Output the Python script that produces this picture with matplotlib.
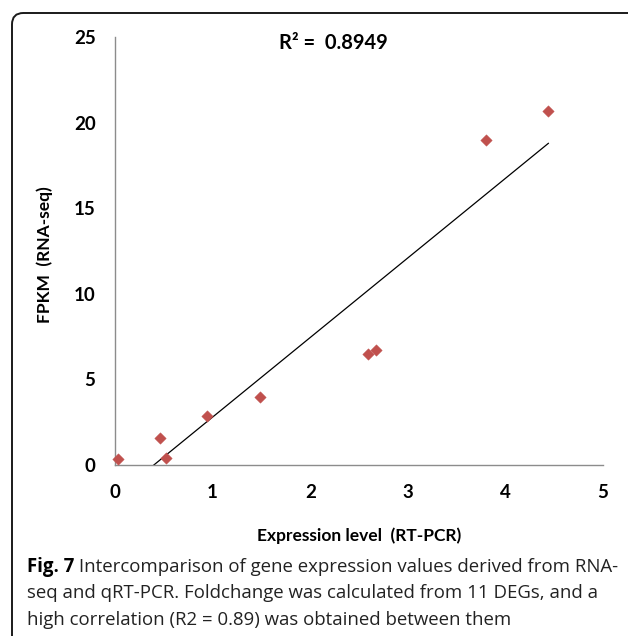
import numpy as np
import matplotlib
matplotlib.use("Agg")
import matplotlib.pyplot as plt
from matplotlib.patches import FancyBboxPatch

# data
rt_pcr = [0.03, 0.46, 0.52, 0.94, 1.49, 2.59, 2.67, 3.80, 4.44]
fpkm = [0.35, 1.6, 0.4, 2.87, 3.97, 6.5, 6.7, 19.0, 20.7]
x_ticks = [0, 1, 2, 3, 4, 5]
y_ticks = [0, 5, 10, 15, 20, 25]
r2_text = "R² =  0.8949"
x_title = "Expression level  (RT-PCR)"
y_title = "FPKM  (RNA-seq)"
caption_bold = "Fig. 7"
caption_lines = [
    " Intercomparison of gene expression values derived from RNA-",
    "seq and qRT-PCR. Foldchange was calculated from 11 DEGs, and a",
    "high correlation (R2 = 0.89) was obtained between them",
]

W, H = 628, 636
fig = plt.figure(figsize=(W / 100, H / 100), dpi=100)
fig.patch.set_facecolor("white")

def fx(px):
    return px / W

def fy(py):
    return 1 - py / H

# rounded frame
frame = FancyBboxPatch((fx(12), fy(660)), fx(660) - fx(12), fy(13) - fy(660),
                       boxstyle="round,pad=0,rounding_size=0.018",
                       transform=fig.transFigure, facecolor="none",
                       edgecolor="#1a1a1a", linewidth=1.4, zorder=0)
fig.patches.append(frame)

ax = fig.add_axes([fx(115), fy(465), fx(603) - fx(115), fy(37) - fy(465)])
chart_font = "Lato"

ax.scatter(rt_pcr, fpkm, marker="D", s=34, color="#C0504D", edgecolors="#C0504D",
           linewidths=0.3, zorder=3, clip_on=False)

xs = np.array(rt_pcr)
ys = np.array(fpkm)
k, b = np.polyfit(xs, ys, 1)
lx = np.linspace(xs.min(), xs.max(), 200)
ax.plot(lx, k * lx + b, color="black", linewidth=0.9, zorder=2)

ax.set_xlim(0, 5)
ax.set_ylim(0, 25)
ax.set_xticks(x_ticks)
ax.set_yticks(y_ticks)
ax.set_xticklabels([str(v) for v in x_ticks], fontfamily=chart_font, fontweight="bold", fontsize=13.5)
ax.set_yticklabels([str(v) for v in y_ticks], fontfamily=chart_font, fontweight="bold", fontsize=13.5)
ax.tick_params(axis="both", length=0)
ax.tick_params(axis="y", pad=14)
ax.tick_params(axis="x", pad=14)
for s in ["top", "right"]:
    ax.spines[s].set_visible(False)
for s in ["left", "bottom"]:
    ax.spines[s].set_color("#8c8c8c")
    ax.spines[s].set_linewidth(1.0)

fig.text(fx(333), fy(43), r2_text, ha="center", va="center",
         fontfamily=chart_font, fontweight="bold", fontsize=14.5)
fig.text(fx(359), fy(536), x_title, ha="center", va="center",
         fontfamily=chart_font, fontweight="bold", fontsize=12.5)
fig.text(fx(45), fy(255), y_title, ha="center", va="center", rotation=90,
         fontfamily=chart_font, fontweight="bold", fontsize=12.5)

cap_font = "Open Sans"
cap_size = 13.4
t = fig.text(fx(27), fy(567), caption_bold, ha="left", va="center",
             fontfamily=cap_font, fontweight="bold", fontsize=cap_size)
fig.canvas.draw()
bb = t.get_window_extent()
fig.text(bb.x1 / W, fy(567), caption_lines[0], ha="left", va="center",
         fontfamily=cap_font, fontsize=cap_size, color="#222222")
fig.text(fx(27), fy(593), caption_lines[1], ha="left", va="center",
         fontfamily=cap_font, fontsize=cap_size, color="#222222")
fig.text(fx(27), fy(620), caption_lines[2], ha="left", va="center",
         fontfamily=cap_font, fontsize=cap_size, color="#222222")

fig.savefig("out.png", dpi=100)
